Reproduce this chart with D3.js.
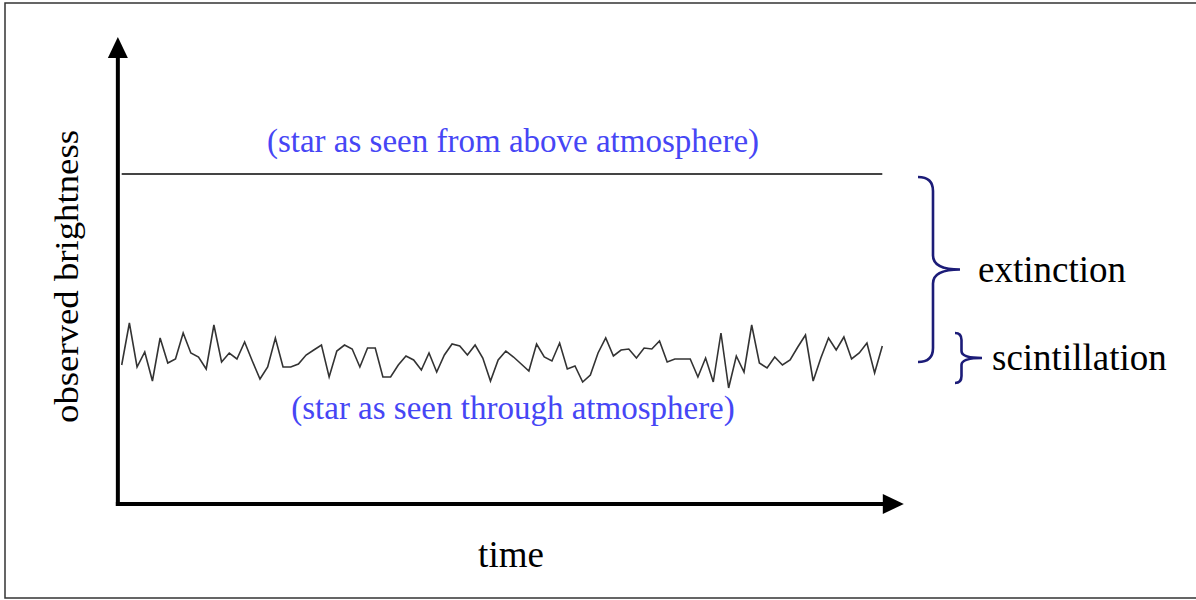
<!DOCTYPE html>
<html>
<head>
<meta charset="utf-8">
<script src="https://cdn.jsdelivr.net/npm/d3@7"></script>
<style>
  html, body { margin: 0; padding: 0; background: #fff; }
  svg { display: block; }
  text { font-family: "Liberation Serif", "Times New Roman", serif; }
</style>
</head>
<body>
<svg id="chart" width="1196" height="600"></svg>
<script>
// ---- data ----
const timeSteps = d3.range(100);
const noiseValues = [139,181,137,152,123,166,141,145,171,151,147,135,179,142,151,145,162,143,125,137,
  166,137,137,140,149,154,159,127,153,159,155,137,156,156,127,127,139,148,144,134,
  151,132,149,160,158,149,159,146,123,144,153,147,140,133,160,147,143,161,135,138,
  122,129,151,166,148,154,155,146,156,155,163,142,145,145,145,127,146,122,171,116,
  148,132,179,141,136,147,139,144,157,169,123,146,166,154,167,145,151,161,131,158];
const aboveValue = 330;
const extinctionRange = [327, 142];
const scintillationRange = [171, 121];
const labelAbove = "(star as seen from above atmosphere)";
const labelThrough = "(star as seen through atmosphere)";
const labelY = "observed brightness";
const labelX = "time";
const labelExt = "extinction";
const labelScint = "scintillation";

// ---- scales ----
const svg = d3.select("#chart");
const x = d3.scaleLinear().domain([0, 99]).range([121.7, 882.3]);
const y = d3.scaleLinear().domain([0, 470]).range([504, 34]);

// frame
svg.append("rect").attr("x", 5).attr("y", 3).attr("width", 1200).attr("height", 595)
  .attr("fill", "none").attr("stroke", "#333").attr("stroke-width", 1.5);

// axes with arrowheads
const ox = x(-0.5), oy = y(0);
const yTip = y(467), xTip = x(101.8);
svg.append("line").attr("x1", ox).attr("y1", oy + 2).attr("x2", ox).attr("y2", yTip + 16)
  .attr("stroke", "#000").attr("stroke-width", 4);
svg.append("path").attr("d", `M${ox},${yTip} L${ox - 10},${yTip + 21} L${ox + 10},${yTip + 21} Z`).attr("fill", "#000");
svg.append("line").attr("x1", ox - 2).attr("y1", oy).attr("x2", xTip - 16).attr("y2", oy)
  .attr("stroke", "#000").attr("stroke-width", 4);
svg.append("path").attr("d", `M${xTip},${oy} L${xTip - 21},${oy - 10} L${xTip - 21},${oy + 10} Z`).attr("fill", "#000");

// star above atmosphere
svg.append("line").attr("x1", x(0)).attr("x2", x(99)).attr("y1", y(aboveValue)).attr("y2", y(aboveValue))
  .attr("stroke", "#444").attr("stroke-width", 2);

// star through atmosphere
const line = d3.line().x((d, i) => x(timeSteps[i])).y(d => y(d));
svg.append("path").datum(noiseValues).attr("d", line)
  .attr("fill", "none").attr("stroke", "#333").attr("stroke-width", 1.6).attr("stroke-linejoin", "miter");

// braces
function brace(xEnd, xStem, xTip, y0, y1, r) {
  const m = (y0 + y1) / 2;
  return `M${xEnd},${y0} Q${xStem},${y0} ${xStem},${y0 + r} L${xStem},${m - r} Q${xStem},${m} ${xTip},${m}` +
         ` Q${xStem},${m} ${xStem},${m + r} L${xStem},${y1 - r} Q${xStem},${y1} ${xEnd},${y1}`;
}
svg.append("path").attr("d", brace(918, 933, 960, y(extinctionRange[0]), y(extinctionRange[1]), 14))
  .attr("fill", "none").attr("stroke", "#1c1c78").attr("stroke-width", 2.6);
svg.append("path").attr("d", brace(955, 961.5, 982, y(scintillationRange[0]), y(scintillationRange[1]), 7))
  .attr("fill", "none").attr("stroke", "#1c1c78").attr("stroke-width", 2.6);

// labels
svg.append("text").attr("x", 513).attr("y", 152).attr("text-anchor", "middle")
  .attr("font-size", 33).attr("fill", "#4646f5").text(labelAbove);
svg.append("text").attr("x", 513).attr("y", 419).attr("text-anchor", "middle")
  .attr("font-size", 33).attr("fill", "#4646f5").text(labelThrough);
svg.append("text").attr("x", 511).attr("y", 567).attr("text-anchor", "middle")
  .attr("font-size", 37).attr("fill", "#000").text(labelX);
svg.append("text").attr("transform", "translate(78,276.5) rotate(-90)").attr("text-anchor", "middle")
  .attr("font-size", 34).attr("fill", "#000").attr("textLength", 293).attr("lengthAdjust", "spacingAndGlyphs").text(labelY);
svg.append("text").attr("x", 978).attr("y", 282)
  .attr("font-size", 37).attr("fill", "#000").text(labelExt);
svg.append("text").attr("x", 992).attr("y", 370)
  .attr("font-size", 37).attr("fill", "#000").text(labelScint);
</script>
</body>
</html>
